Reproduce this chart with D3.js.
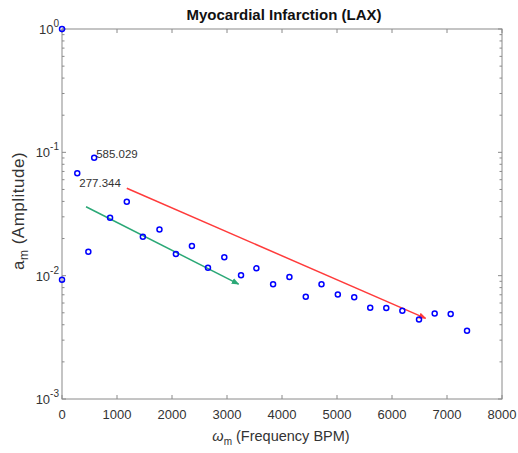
<!DOCTYPE html>
<html><head><meta charset="utf-8">
<script src="https://cdn.jsdelivr.net/npm/d3@7"></script>
<style>body{margin:0;background:#fff}svg{display:block}</style>
</head><body>
<svg id="c" width="518" height="453"></svg>
<script>
const freq = [0, 277.344, 585.029, 479, 0, 874, 1178, 1470, 1772, 2071, 2362, 2654, 2951, 3255, 3534, 3838, 4135, 4432, 4718, 5015, 5313, 5604, 5896, 6188, 6491, 6776, 7067, 7364];
const amp  = [1.0, 0.0676, 0.0904, 0.0156, 0.00927, 0.0295, 0.0398, 0.0207, 0.0237, 0.0150, 0.0174, 0.0116, 0.0141, 0.0101, 0.01146, 0.00850, 0.00975, 0.00675, 0.00850, 0.00705, 0.00667, 0.00549, 0.00546, 0.00519, 0.00442, 0.00494, 0.00488, 0.00357];
const labelText = ["277.344", "585.029"];
const labelX = [277.344, 585.029];
const labelY = [0.0676, 0.0904];
const greenLine = {x: [437, 3211], y: [0.0362, 0.00855]};
const redLine = {x: [1178, 6612], y: [0.0511, 0.00451]};
const xTicks = [0, 1000, 2000, 3000, 4000, 5000, 6000, 7000, 8000];
const yExps = [0, -1, -2, -3];

const svg = d3.select("#c");
const L = 62, R = 502, T = 29, B = 399;
const x = d3.scaleLinear().domain([0, 8000]).range([L, R]);
const y = d3.scaleLog().domain([1e-3, 1]).range([B, T]);
const axisCol = "#8a8a8a", txtCol = "#333";
const font = "Liberation Sans, Arial, sans-serif";

// frame
svg.append("rect").attr("x", L).attr("y", T).attr("width", R - L).attr("height", B - T)
  .attr("fill", "#fff").attr("stroke", axisCol).attr("stroke-width", 1);

// ticks (inward) on all sides
const g = svg.append("g").attr("stroke", axisCol).attr("stroke-width", 1);
xTicks.forEach(t => {
  g.append("line").attr("x1", x(t)).attr("x2", x(t)).attr("y1", B).attr("y2", B - 4);
  g.append("line").attr("x1", x(t)).attr("x2", x(t)).attr("y1", T).attr("y2", T + 4);
});
yExps.forEach(e => {
  const v = Math.pow(10, e);
  g.append("line").attr("x1", L).attr("x2", L + 4).attr("y1", y(v)).attr("y2", y(v));
  g.append("line").attr("x1", R).attr("x2", R - 4).attr("y1", y(v)).attr("y2", y(v));
  if (e < 0) {
    for (let k = 2; k <= 9; k++) {
      const mv = k * v;
      g.append("line").attr("x1", L).attr("x2", L + 2.5).attr("y1", y(mv)).attr("y2", y(mv));
      g.append("line").attr("x1", R).attr("x2", R - 2.5).attr("y1", y(mv)).attr("y2", y(mv));
    }
  }
});

// x tick labels
xTicks.forEach(t => {
  svg.append("text").attr("x", x(t)).attr("y", 419).attr("text-anchor", "middle")
    .attr("font-family", font).attr("font-size", 13).attr("fill", txtCol).text(t);
});
// y tick labels
yExps.forEach(e => {
  const tx = svg.append("text").attr("x", 59).attr("y", y(Math.pow(10, e)) + 5).attr("text-anchor", "end")
    .attr("font-family", font).attr("font-size", 13).attr("fill", txtCol);
  tx.append("tspan").text("10");
  tx.append("tspan").attr("dy", -7).attr("font-size", 10).text(String(e));
});

// title
svg.append("text").attr("x", 284).attr("y", 20).attr("text-anchor", "middle")
  .attr("font-family", font).attr("font-size", 15).attr("font-weight", "bold").attr("fill", "#111")
  .text("Myocardial Infarction (LAX)");

// x label
const xl = svg.append("text").attr("x", 281).attr("y", 441).attr("text-anchor", "middle")
  .attr("font-family", font).attr("font-size", 14.5).attr("fill", txtCol);
xl.append("tspan").attr("font-style", "italic").text("ω");
xl.append("tspan").attr("dy", 4).attr("font-size", 10).text("m");
xl.append("tspan").attr("dy", -4).text(" (Frequency BPM)");

// y label
const yl = svg.append("text").attr("transform", "translate(24,211) rotate(-90)").attr("text-anchor", "middle")
  .attr("font-family", font).attr("font-size", 17).attr("letter-spacing", 0.5).attr("fill", txtCol);
yl.append("tspan").text("a");
yl.append("tspan").attr("dy", 4).attr("font-size", 12).text("m");
yl.append("tspan").attr("dy", -4).text(" (Amplitude)");

// arrow markers
const defs = svg.append("defs");
[["ag", "#2aa876"], ["ar", "#ff3b3b"]].forEach(([id, c]) => {
  defs.append("marker").attr("id", id).attr("viewBox", "0 0 10 10").attr("refX", 9).attr("refY", 5)
    .attr("markerWidth", 5).attr("markerHeight", 5).attr("orient", "auto")
    .append("path").attr("d", "M0,1 L10,5 L0,9 Z").attr("fill", c);
});

const line = d3.line().x(d => x(d[0])).y(d => y(d[1]));
svg.append("path").datum(d3.zip(greenLine.x, greenLine.y)).attr("d", line)
  .attr("stroke", "#2aa876").attr("stroke-width", 1.5).attr("fill", "none").attr("marker-end", "url(#ag)");
svg.append("path").datum(d3.zip(redLine.x, redLine.y)).attr("d", line)
  .attr("stroke", "#ff3b3b").attr("stroke-width", 1.5).attr("fill", "none").attr("marker-end", "url(#ar)");

// points
svg.append("g").selectAll("circle").data(d3.zip(freq, amp)).join("circle")
  .attr("cx", d => x(d[0])).attr("cy", d => y(d[1])).attr("r", 2.5)
  .attr("fill", "none").attr("stroke", "#0000ff").attr("stroke-width", 1.5);

// annotations
svg.append("text").attr("x", x(labelX[0]) + 2).attr("y", y(labelY[0]) + 14)
  .attr("font-family", font).attr("font-size", 11.5).attr("fill", txtCol).text(labelText[0]);
svg.append("text").attr("x", x(labelX[1]) + 2).attr("y", y(labelY[1]))
  .attr("font-family", font).attr("font-size", 11.5).attr("fill", txtCol).text(labelText[1]);
</script>
</body></html>
